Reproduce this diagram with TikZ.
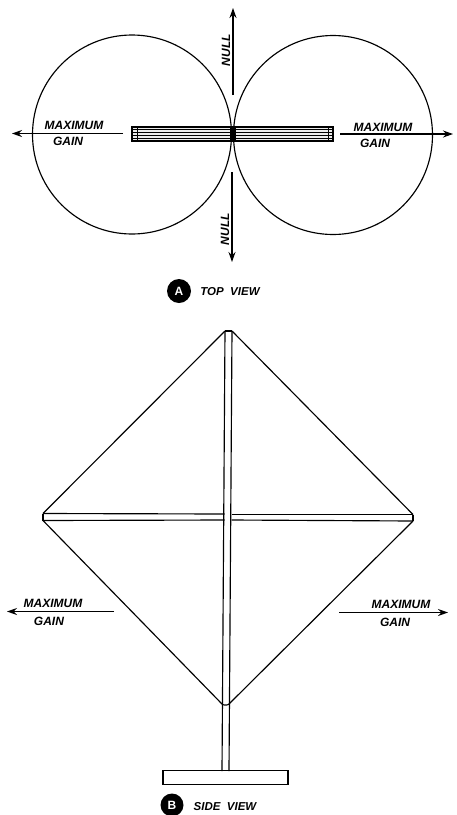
\documentclass[tikz,border=0pt]{standalone}
\usepackage{fontspec}
\setmainfont{Liberation Sans}
\usetikzlibrary{positioning, arrows.meta, calc}

\begin{document}
\begin{tikzpicture}[
    x=1pt, y=-1pt,
    every node/.style={font=\itshape},
    line width=1.15pt,
    lobe/.style={
        circle,
        draw=black,
        minimum size=199pt,
        inner sep=0pt,
    },
    caption/.style={font=\bfseries\itshape\fontsize{11.5}{13}\selectfont, inner sep=0pt},
    tag/.style={
        circle,
        fill=black,
        text=white,
        font=\bfseries\fontsize{12}{13}\selectfont,
        minimum size=#1,
        inner sep=0pt,
    },
    gainlabel/.style={font=\bfseries\itshape\fontsize{12}{13}\selectfont, inner sep=0pt},
    arr/.style={-{Stealth[length=10pt, width=7pt]}, line width=1.15pt},
    elem/.style={line width=0.8pt},
]
\useasboundingbox (0,0) rectangle (456,815);

% Top view: lobes
\node[lobe] (leftlobe) at (132,134.5) {};
\node[lobe] (rightlobe) at (333,135) {};

% Null and gain arrows
\coordinate (nulltopa) at (233,95);
\coordinate (nulltopb) at (233,8);
\coordinate (nullbota) at (232,172);
\coordinate (nullbotb) at (232,262);
\coordinate (gainla) at (123,133.5);
\coordinate (gainlb) at (12,133.5);
\coordinate (gainra) at (340,134);
\coordinate (gainrb) at (453,134);
\draw[arr] (nulltopa) -- (nulltopb);
\draw[arr] (nullbota) -- (nullbotb);
\draw[arr] (gainla) -- (gainlb);
\draw[arr] (gainra) -- (gainrb);

% Array seen from above
\node[draw=black, fill=black!8, minimum width=201pt, minimum height=14pt, inner sep=0pt] (toparray) at (232.5,134) {};
\foreach \yy in {129.8,132.6,135.4,138.2} {
    \draw[elem] (toparray.west |- 0,\yy) -- (toparray.east |- 0,\yy);
}
\draw[elem] (137,127) -- (137,141);
\draw[elem] (328,127) -- (328,141);
\fill[black] (230,127) rectangle (236,141);

% Top view labels
\node[gainlabel] (maxla) at (74,125) {MAXIMUM};
\node[gainlabel] (gainlta) at (68,141.5) {GAIN};
\node[gainlabel] (maxra) at (383,127) {MAXIMUM};
\node[gainlabel] (gainrta) at (375,143) {GAIN};
\node[gainlabel, rotate=90] (nulltop) at (226,50) {NULL};
\node[gainlabel, rotate=90] (nullbot) at (225,229) {NULL};

\node[tag=24pt] (taga) at (179,291) {A};
\node[caption] (capa) at (230,291.5) {TOP\ \ VIEW};

% Side view: mast, bar and wire
\coordinate (masttopl) at (225,331);
\coordinate (masttopr) at (232,331);
\coordinate (mastbotl) at (222,771);
\coordinate (mastbotr) at (229,771);
\coordinate (barla) at (43,513.5);
\coordinate (barlb) at (43,520.5);
\coordinate (barra) at (413,514.5);
\coordinate (barrb) at (413,521);
\coordinate (feedl) at (222,704);
\coordinate (feedr) at (229,704);

\draw (masttopl) -- (mastbotl);
\draw (masttopr) -- (mastbotr);
\draw (masttopl) -- (masttopr);
\draw (barla) -- (barlb);
\draw (barra) -- (barrb);
\draw (barla) -- (224.7,514);
\draw (barlb) -- (224.6,520);
\draw (231.7,514.5) -- (barra);
\draw (231.6,520) -- (barrb);
\draw (barla) -- (masttopl);
\draw (barra) -- (masttopr);
\draw (barlb) -- (feedl);
\draw (barrb) -- (feedr);
\draw (feedl) to[out=-60, in=-120, looseness=0.6] (feedr);

\node[draw=black, minimum width=125pt, minimum height=13.5pt, inner sep=0pt] (base) at (225.5,777.5) {};

% Side view arrows and labels
\coordinate (gainsla) at (114,611.5);
\coordinate (gainslb) at (7,611.5);
\coordinate (gainsra) at (339,612.5);
\coordinate (gainsrb) at (448,612.5);
\draw[arr] (gainsla) -- (gainslb);
\draw[arr] (gainsra) -- (gainsrb);
\node[gainlabel] (maxlb) at (53,603) {MAXIMUM};
\node[gainlabel] (gainltb) at (49,621) {GAIN};
\node[gainlabel] (maxrb) at (401,604.5) {MAXIMUM};
\node[gainlabel] (gainrtb) at (395,622.5) {GAIN};

\node[tag=23pt] (tagb) at (172,805) {B};
\node[caption] (capb) at (225,806.5) {SIDE\ \ VIEW};

\end{tikzpicture}
\end{document}
